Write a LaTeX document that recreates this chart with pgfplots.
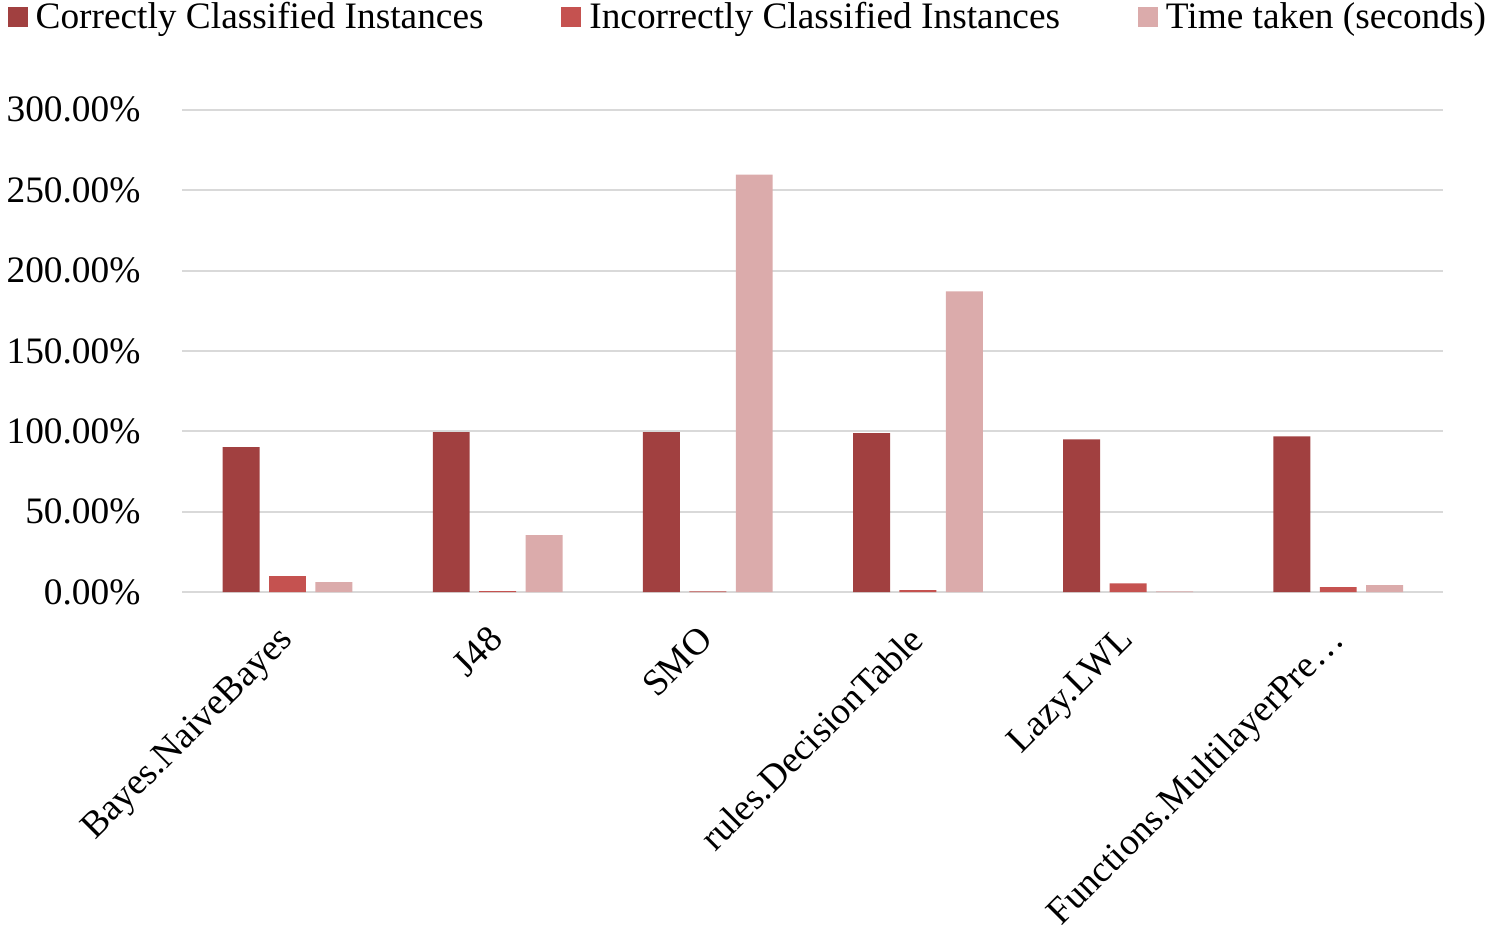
\documentclass[border=0pt]{standalone}
\usepackage{fontspec}
\setmainfont{Liberation Serif}
\usepackage{pgfplots}
\pgfplotsset{compat=1.18}
\definecolor{cA}{HTML}{A14040}
\definecolor{cB}{HTML}{C55250}
\definecolor{cC}{HTML}{DBABAB}
\definecolor{gridc}{HTML}{D9D9D9}
\begin{document}
\begin{tikzpicture}
\begin{axis}[
  scale only axis,
  width=631.5pt, height=241.5pt,
  xmin=-0.5, xmax=5.5, ymin=0, ymax=300,
  ybar=4.75pt, bar width=18.5pt,
  axis line style={draw=none},
  major tick length=0pt,
  ymajorgrids, grid style={draw=gridc, line width=1pt},
  ytick={0,50,100,150,200,250,300},
  yticklabel={\pgfmathprintnumber[fixed,fixed zerofill,precision=2]{\tick}\%},
  /pgf/number format/assume math mode=true,
  yticklabel style={font=\fontsize{18.7}{22}\selectfont, xshift=-17.5pt},
  xtick={0,1,2,3,4,5},
  xticklabels={Bayes.NaiveBayes,J48,SMO,rules.DecisionTable,Lazy.LWL,Functions.MultilayerPre…},
  xticklabel style={xshift=-5.5pt, yshift=-13pt, font=\fontsize{18.7}{22}\selectfont, rotate=45, anchor=north east, inner sep=2pt},
  legend columns=3,
  legend style={at={(-0.1386,1.2277)}, anchor=north west, draw=none, inner sep=0pt, outer sep=0pt,
    font=\fontsize{18.7}{22}\selectfont,
    nodes={inner sep=1pt},
    /tikz/every odd column/.append style={column sep=3pt},
    /tikz/every even column/.append style={column sep=38pt}},
  legend image code/.code={\fill[#1] (0pt,-5pt) rectangle (10pt,5pt);},
]
\addplot[fill=cA, draw=none] coordinates {(0,90.1) (1,99.4) (2,99.4) (3,98.8) (4,95.0) (5,96.9)};
\addplot[fill=cB, draw=none] coordinates {(0,9.9) (1,0.6) (2,0.4) (3,1.2) (4,5.4) (5,3.1)};
\addplot[fill=cC, draw=none] coordinates {(0,6.2) (1,35.4) (2,259.6) (3,187.0) (4,0.4) (5,4.3)};
\legend{Correctly Classified Instances, Incorrectly Classified Instances, Time taken (seconds)}
\end{axis}
\end{tikzpicture}
\end{document}
